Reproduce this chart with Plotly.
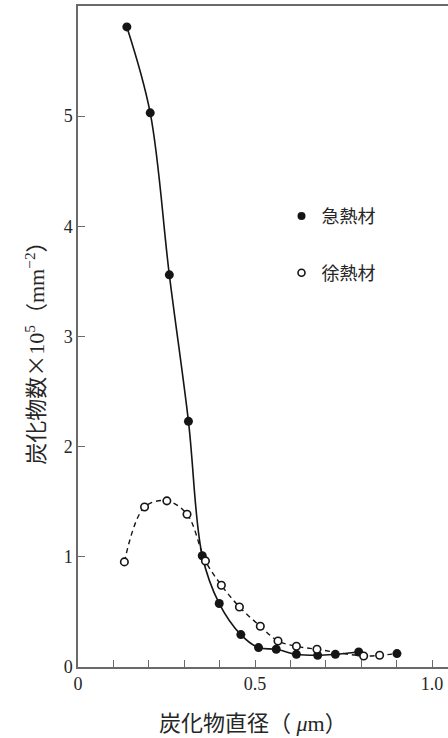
import plotly.graph_objects as go

# 急熱材 (filled)
fast_x = [0.138, 0.204, 0.258, 0.312, 0.351, 0.399, 0.460, 0.510, 0.560, 0.617, 0.677, 0.727, 0.793, 0.901]
fast_y = [5.81, 5.03, 3.56, 2.23, 1.01, 0.576, 0.294, 0.176, 0.161, 0.115, 0.106, 0.115, 0.136, 0.122]
# 徐熱材 (open)
slow_x = [0.131, 0.188, 0.251, 0.308, 0.360, 0.405, 0.456, 0.515, 0.565, 0.617, 0.675, 0.807, 0.852]
slow_y = [0.954, 1.453, 1.508, 1.387, 0.963, 0.742, 0.545, 0.370, 0.236, 0.188, 0.161, 0.100, 0.106]

x_ticks = [0, 0.1, 0.2, 0.3, 0.4, 0.5, 0.6, 0.7, 0.8, 0.9, 1.0]
x_ticktext = ["0", "", "", "", "", "0.5", "", "", "", "", "1.0"]
y_ticks = [0, 1, 2, 3, 4, 5]
y_ticktext = ["0", "1", "2", "3", "4", "5"]

legend_names = ["急熱材", "徐熱材"]

FONT = "Liberation Serif, 'Noto Sans CJK JP', serif"
INK = "#151515"
AX = "#6a6a6a"
TXT = "#262626"

fig = go.Figure()

# solid curve through filled points (up to 0.8)
fig.add_trace(go.Scatter(x=fast_x[:-1], y=fast_y[:-1], mode="lines", line=dict(color=INK, width=1.6, shape="spline"),
                         showlegend=False, hoverinfo="skip"))
# dashed curve through open points, continuing to the last filled point
fig.add_trace(go.Scatter(x=slow_x + fast_x[-1:], y=slow_y + fast_y[-1:], mode="lines",
                         line=dict(color=INK, width=1.4, shape="spline", dash="5px,4px"),
                         showlegend=False, hoverinfo="skip"))
fig.add_trace(go.Scatter(x=fast_x, y=fast_y, mode="markers",
                         marker=dict(symbol="circle", size=9, color=INK, line=dict(width=0)),
                         showlegend=False))
fig.add_trace(go.Scatter(x=slow_x, y=slow_y, mode="markers",
                         marker=dict(symbol="circle", size=7.5, color="white", line=dict(width=1.6, color=INK)),
                         showlegend=False))

# legend entries
fig.add_trace(go.Scatter(x=[None], y=[None], mode="markers", name=legend_names[0],
                         marker=dict(symbol="circle", size=8, color=INK), legend="legend"))
fig.add_trace(go.Scatter(x=[None], y=[None], mode="markers", name=legend_names[1],
                         marker=dict(symbol="circle", size=7, color="white", line=dict(width=1.6, color=INK)),
                         legend="legend2"))

fig.update_layout(
    width=448, height=738,
    margin=dict(l=78, r=0, t=6, b=71),
    paper_bgcolor="white", plot_bgcolor="white",
    font=dict(family=FONT, size=18, color=TXT),
    legend=dict(x=0.55, y=0.682, xanchor="left", yanchor="middle", bgcolor="rgba(0,0,0,0)",
                font=dict(family=FONT, size=18, color=TXT), borderwidth=0),
    legend2=dict(x=0.55, y=0.596, xanchor="left", yanchor="middle", bgcolor="rgba(0,0,0,0)",
                 font=dict(family=FONT, size=18, color=TXT), borderwidth=0),
    xaxis=dict(range=[0, 370 / 354], tickvals=x_ticks, ticktext=x_ticktext, ticks="inside", ticklen=7,
               tickwidth=1.2, tickcolor=AX, showline=True, linecolor=AX, linewidth=1.5, mirror=True,
               showgrid=False, zeroline=False, tickfont=dict(family=FONT, size=18, color=TXT)),
    yaxis=dict(range=[0, 6], tickvals=y_ticks, ticktext=y_ticktext, ticks="inside", ticklen=7,
               tickwidth=1.2, tickcolor=AX, showline=True, linecolor=AX, linewidth=1.5,
               showgrid=False, zeroline=False, tickfont=dict(family=FONT, size=18, color=TXT)),
    annotations=[
        dict(text="炭化物直径（ <i>μ</i>m）", xref="paper", yref="paper", x=(253 - 78) / 370, y=0,
             xanchor="center", yanchor="middle", yshift=-56, showarrow=False,
             font=dict(family=FONT, size=22, color=TXT)),
        dict(text="炭化物数<span style=\"font-family:'Noto Sans CJK JP'\">×</span>10<sup>5</sup>（mm<sup>−2</sup>）",
             xref="paper", yref="paper", x=0, y=0.483,
             xanchor="center", yanchor="middle", xshift=-44, textangle=-90, showarrow=False,
             font=dict(family=FONT, size=22, color=TXT)),
    ],
)

fig.write_html("out.html")
